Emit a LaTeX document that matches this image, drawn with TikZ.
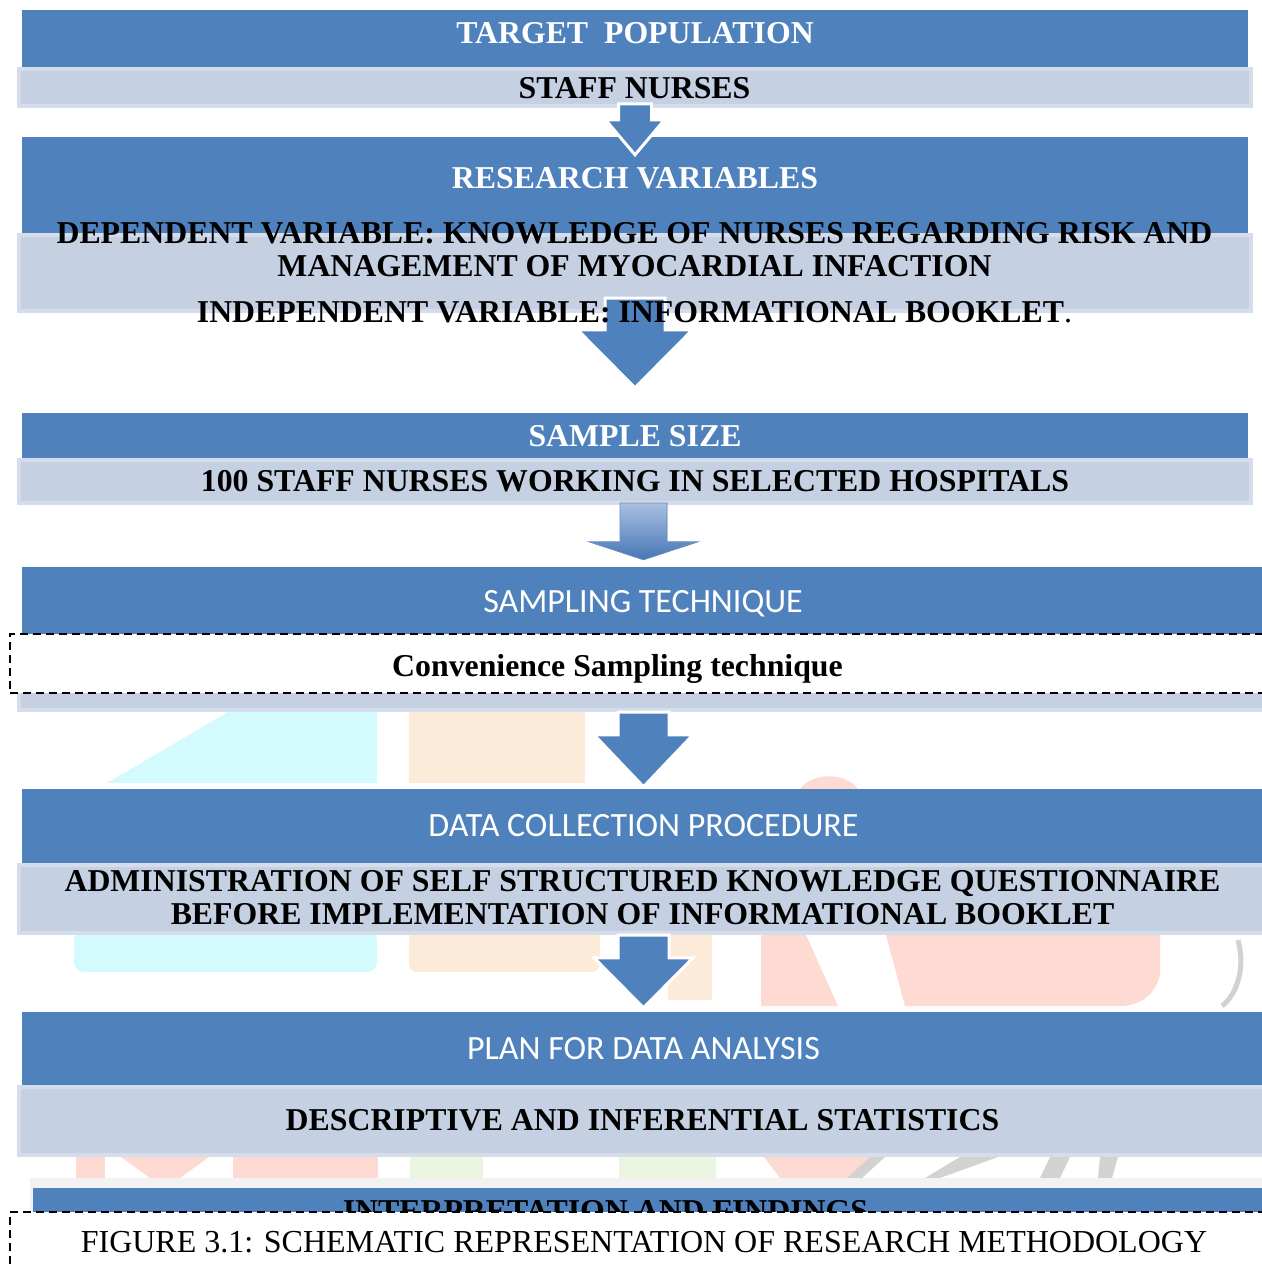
\documentclass[tikz,border=0pt]{standalone}
\usepackage{fontspec}
\setmainfont{Liberation Serif}
\newfontfamily\calibri{Carlito}
\usetikzlibrary{calc}

\definecolor{hdblue}{HTML}{4F81BD}
\definecolor{subfill}{HTML}{C5D0E3}
\definecolor{subedge}{HTML}{D5DCEA}
\definecolor{arrtop}{HTML}{A9C0E2}
\definecolor{arrbot}{HTML}{4676B4}
\definecolor{arrshadow}{HTML}{2C4D75}
\definecolor{stripgray}{HTML}{F2F2F2}
\definecolor{wmcyan}{HTML}{D3FAFD}
\definecolor{wmorange}{HTML}{FDEBD9}
\definecolor{wmpink}{HTML}{FDDAD2}
\definecolor{wmgreen}{HTML}{EAF6E2}
\definecolor{wmgray}{HTML}{D2D2D2}

% block arrow pointing down: [style]{top}{tip}{shaft half}{head half}{head length}
\newcommand{\blockarr}[6][]{%
  \path[#1] let \p1=(#2), \p2=(#3) in
    (\x1-#4pt,\y1) -- (\x1+#4pt,\y1) -- (\x1+#4pt,\y2+#6pt)
    -- (\x1+#5pt,\y2+#6pt) -- (\x1,\y2) -- (\x1-#5pt,\y2+#6pt)
    -- (\x1-#4pt,\y2+#6pt) -- cycle;}

\begin{document}
\begin{tikzpicture}[
    x=1pt, y=-1pt,
    band/.style={rectangle, fill=hdblue, draw=none, inner sep=0pt},
    subband/.style={rectangle, fill=subfill, draw=subedge, line width=4pt, inner sep=0pt},
    dashbox/.style={rectangle, fill=white, draw=black, line width=2.4pt, dash pattern=on 8pt off 5pt, inner sep=0pt},
    title/.style={text=white, inner sep=0pt, text depth=0pt, font=\fontsize{31.8}{33}\selectfont\bfseries},
    sanstitle/.style={text=white, inner sep=0pt, text depth=0pt, font=\fontsize{34}{36}\selectfont\calibri},
    bodytext/.style={text=black, inner sep=0pt, text depth=0pt, align=center, font=\fontsize{31.8}{33}\selectfont\bfseries},
    captext/.style={text=black, inner sep=0pt, text depth=0pt, font=\fontsize{32}{34}\selectfont},
    blockarrow/.style={fill=hdblue, draw=white, line width=3pt, line join=miter}
]
\useasboundingbox (0,0) rectangle (1261,1268);

% Faint watermark behind the flow
\fill[wmcyan] (228,712) -- (377,712) -- (377,783) -- (107,783) -- cycle;
\fill[wmcyan, rounded corners=10pt] (74,930) -- (377,930) -- (377,972) -- (74,972) -- cycle;
\fill[wmorange] (409,712) rectangle (585,783);
\fill[wmorange, rounded corners=8pt] (409,930) -- (600,930) -- (600,972) -- (409,972) -- cycle;
\fill[wmorange] (668,935) rectangle (712,1000);
\fill[wmpink] (800,789) .. controls (812,772) and (846,772) .. (858,789) -- cycle;
\fill[wmpink] (761,935) -- (806,935) -- (838,1006) -- (761,1006) -- cycle;
\fill[wmpink] (886,935) -- (1160,935) -- (1160,975) .. controls (1155,995) and (1140,1006) .. (1120,1006) -- (905,1006) -- cycle;
\draw[wmgray, line width=5pt] (1238,940) .. controls (1246,970) and (1236,995) .. (1222,1006);
\fill[wmpink] (76,1157) rectangle (105,1178);
\fill[wmpink] (121,1157) -- (209,1157) -- (180,1178) -- (150,1178) -- cycle;
\fill[wmpink] (233,1157) rectangle (378,1178);
\fill[wmgreen] (410,1157) rectangle (483,1178);
\fill[wmgreen] (619,1157) rectangle (716,1178);
\fill[wmpink] (764,1157) -- (877,1157) -- (860,1178) -- (780,1178) -- cycle;
\fill[wmgray] (870,1157) -- (885,1157) -- (862,1178) -- (847,1178) -- cycle;
\fill[wmgray] (960,1157) -- (998,1157) -- (940,1178) -- (925,1178) -- cycle;
\fill[wmgray] (1050,1157) -- (1070,1157) -- (1060,1178) -- (1040,1178) -- cycle;
\fill[wmgray] (1100,1157) -- (1118,1157) -- (1112,1178) -- (1098,1178) -- cycle;

% Target population
\node[band, minimum width=1226pt, minimum height=57pt] (tp) at (635,38.5) {};
\node[subband, minimum width=1232pt, minimum height=37pt] (tpsub) at (635,87.5) {};

% Research variables
\node[band, minimum width=1226pt, minimum height=98pt] (rv) at (635,186) {};
\node[subband, minimum width=1232pt, minimum height=76pt] (rvsub) at (635,273) {};

% Sample size
\node[band, minimum width=1226pt, minimum height=45pt] (ss) at (635,435.5) {};
\node[subband, minimum width=1232pt, minimum height=43pt] (sssub) at (635,481.5) {};

% Sampling technique
\node[band, minimum width=1244pt, minimum height=67pt] (st) at (644,600.5) {};
\node[subband, minimum width=1245pt, minimum height=68pt] (stsub) at (641.5,676) {};
\node[dashbox, minimum width=1260pt, minimum height=59pt] (cs) at (640,663.5) {};

% Data collection procedure
\node[band, minimum width=1244pt, minimum height=74pt] (dc) at (644,826) {};
\node[subband, minimum width=1245pt, minimum height=68pt] (dcsub) at (641.5,899) {};

% Plan for data analysis
\node[band, minimum width=1244pt, minimum height=73pt] (pa) at (644,1048.5) {};
\node[subband, minimum width=1245pt, minimum height=68pt] (pasub) at (641.5,1121) {};

% Interpretation and findings (cut by the caption)
\fill[stripgray] (30,1178) rectangle (1266,1240);
\node[band, minimum width=1233pt, minimum height=52pt] (inf) at (649.5,1214) {};

% Arrows
\blockarr[blockarrow]{$(tpsub.south)+(0,-4)$}{$(rv.north)+(0,18)$}{16.5}{29.5}{35}
\blockarr[blockarrow]{$(rvsub.south)+(0,-15)$}{$(ss.north)+(0,-25)$}{30}{57.5}{58}
\blockarr[fill=arrshadow, xshift=3pt, yshift=-3pt]{$(sssub.south)+(8.5,-2)$}{$(st.north)+(0,-7)$}{23.5}{54.5}{18}
\blockarr[top color=arrtop, bottom color=arrbot, draw=arrbot!80!white, line width=0.8pt]{$(sssub.south)+(8.5,-2)$}{$(st.north)+(0,-7)$}{23.5}{54.5}{18}
\blockarr[blockarrow]{$(stsub.south)+(2,0)$}{$(dc.north)+(0,-2)$}{25.5}{49.5}{52}
\blockarr[blockarrow]{$(dcsub.south)+(2,0)$}{$(pa.north)+(0,-4)$}{25.5}{49.5}{50}

% Texts
\node[title] (tptitle) at (635,32.5) {TARGET~~POPULATION};
\node[bodytext] (tptext) at (634.5,87.5) {STAFF NURSES};
\node[title] (rvtitle) at (635,178) {RESEARCH VARIABLES};
\node[bodytext] (dv) at (634.5,249) {DEPENDENT VARIABLE: KNOWLEDGE OF NURSES REGARDING RISK AND\\MANAGEMENT OF MYOCARDIAL INFACTION};
\node[bodytext] (iv) at (634.5,311.5) {INDEPENDENT VARIABLE: INFORMATIONAL BOOKLET{\mdseries .}};
\node[title] (sstitle) at (635,435.5) {SAMPLE SIZE};
\node[bodytext] (sstext) at (635,481) {100 STAFF NURSES WORKING IN SELECTED HOSPITALS};
\node[sanstitle] (sttitle) at (643,601.5) {SAMPLING TECHNIQUE};
\node[bodytext] (cstext) at (617.5,665) {Convenience Sampling technique};
\node[sanstitle] (dctitle) at (643.5,825.5) {DATA COLLECTION PROCEDURE};
\node[bodytext] (dctext) at (642.5,897) {ADMINISTRATION OF SELF STRUCTURED KNOWLEDGE QUESTIONNAIRE\\BEFORE IMPLEMENTATION OF INFORMATIONAL BOOKLET};
\node[sanstitle] (patitle) at (643.5,1048) {PLAN FOR DATA ANALYSIS};
\node[bodytext] (patext) at (642.5,1120) {DESCRIPTIVE AND INFERENTIAL STATISTICS};
\node[bodytext] (inftext) at (605.5,1210.5) {INTERPRETATION AND FINDINGS};

% Caption
\node[dashbox, minimum width=1260pt, minimum height=88pt] (capbox) at (640,1256) {};
\node[captext] (caption) at (644,1242) {FIGURE 3.1: SCHEMATIC REPRESENTATION OF RESEARCH METHODOLOGY};

\end{tikzpicture}
\end{document}
